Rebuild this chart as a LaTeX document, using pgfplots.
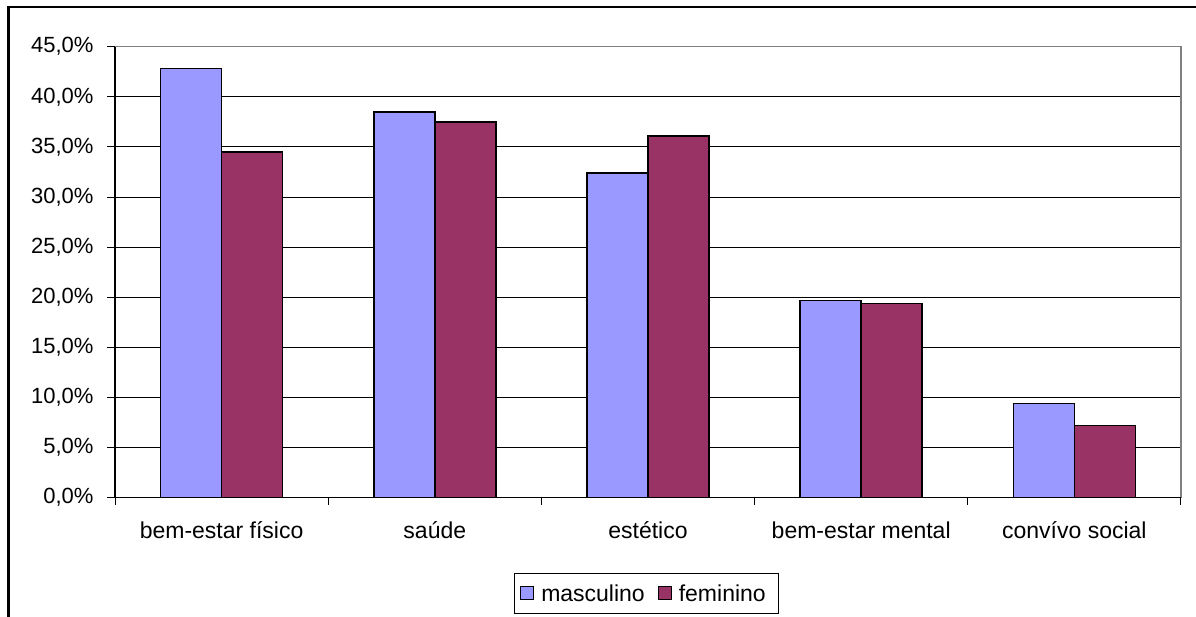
\documentclass[border=0pt]{standalone}
\usepackage{pgfplots}
\pgfplotsset{compat=1.18}
\usepackage{fontspec}
\setmainfont{Liberation Sans}
\definecolor{masc}{HTML}{9999FF}
\definecolor{fem}{HTML}{993366}
\definecolor{plotborder}{HTML}{808080}

\begin{document}
\begin{tikzpicture}[x=1pt,y=1pt]
\useasboundingbox (0,0) rectangle (1196,617);
\fill[white] (0,0) rectangle (1196,617);
% outer chart frame (top and left edges)
\draw[black, line width=2.3pt] (8.5,0) -- (8.5,609.7) -- (1196,609.7);
\begin{axis}[
  at={(115pt,119.3pt)}, anchor=south west,
  scale only axis, width=1066pt, height=451pt,
  xmin=-0.5, xmax=4.5, ymin=0, ymax=45,
  ybar=0pt, bar width=61pt,
  xtick={0,...,4},
  xticklabels={bem-estar físico, saúde, estético, bem-estar mental, convívo social},
  minor xtick={-0.5,0.5,...,4.5},
  ytick={0,5,...,45},
  yticklabels={{0,0\%},{5,0\%},{10,0\%},{15,0\%},{20,0\%},{25,0\%},{30,0\%},{35,0\%},{40,0\%},{45,0\%}},
  tick align=outside, tick pos=left,
  major x tick style={draw=none},
  minor x tick style={black, line width=1pt},
  major y tick style={black, line width=1pt},
  major tick length=8pt, minor tick length=7pt,
  ymajorgrids, major grid style={black, line width=1pt},
  axis line style={draw=none},
  clip=false,
  yticklabel style={font=\fontsize{22}{26}\selectfont, xshift=-10pt},
  xticklabel style={font=\fontsize{23}{27}\selectfont, text height=17pt, text depth=5pt, yshift=-12pt},
  legend style={at={(0.4986,-0.2124)}, anchor=center, draw=black, line width=1pt,
    fill=white, font=\fontsize{23}{27}\selectfont,
    inner xsep=5.5pt, inner ysep=7pt,
    nodes={inner xsep=7pt, inner ysep=4pt},
    /tikz/every even column/.append style={column sep=6pt}},
  legend columns=2,
  legend image code/.code={\draw[#1, line width=1pt] (0pt,-6.5pt) rectangle (13pt,6.5pt);},
]
\addplot[fill=masc, draw=black, line width=1.5pt]
  coordinates {(0,42.8) (1,38.5) (2,32.4) (3,19.7) (4,9.4)};
\addplot[fill=fem, draw=black, line width=1.5pt]
  coordinates {(0,34.5) (1,37.5) (2,36.1) (3,19.4) (4,7.2)};
\legend{masculino, feminino}
% plot area border: grey at top and right, black axes at left and bottom
\draw[plotborder, line width=1.5pt] (rel axis cs:0,1) -- (rel axis cs:1,1) -- (rel axis cs:1,0);
\draw[black, line width=1.3pt] (rel axis cs:1,0) -- (rel axis cs:0,0) -- (rel axis cs:0,1);
\end{axis}
\end{tikzpicture}
\end{document}
